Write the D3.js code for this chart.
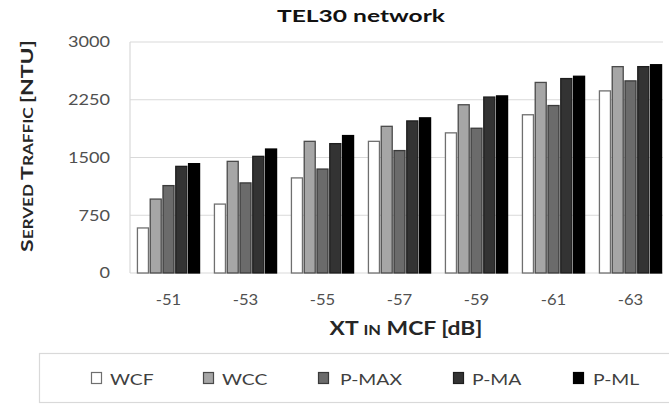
<!DOCTYPE html>
<html>
<head>
<meta charset="utf-8">
<script src="https://cdn.jsdelivr.net/npm/d3@7"></script>
<style>
  html, body { margin: 0; padding: 0; background: #fff; }
  svg { display: block; font-family: Lato, "Open Sans", sans-serif; }
</style>
</head>
<body>
<svg id="chart" width="669" height="407"></svg>
<script>
const categories = ["-51", "-53", "-55", "-57", "-59", "-61", "-63"];
const seriesNames = ["WCF", "WCC", "P-MAX", "P-MA", "P-ML"];
const wcf  = [585, 895, 1235, 1710, 1820, 2055, 2365];
const wcc  = [960, 1450, 1710, 1905, 2185, 2475, 2680];
const pmax = [1135, 1170, 1350, 1590, 1880, 2175, 2495];
const pma  = [1385, 1515, 1680, 1975, 2285, 2525, 2680];
const pml  = [1420, 1610, 1785, 2015, 2300, 2555, 2705];
const yTicks = [0, 750, 1500, 2250, 3000];
const seriesValues = [wcf, wcc, pmax, pma, pml];

const fills   = ["#ffffff", "#a6a6a6", "#6b6b6b", "#333333", "#000000"];
const strokes = ["#6f6f6f", "#4a4a4a", "#3a3a3a", "#1e1e1e", "#000000"];

const svg = d3.select("#chart");
const pLeft = 130, pRight = 669, pTop = 42, pBottom = 273;

function stretchBy(sel, f) {
  sel.each(function () {
    const l = this.getComputedTextLength();
    d3.select(this).attr("textLength", l * f).attr("lengthAdjust", "spacingAndGlyphs");
  });
}

const x0 = d3.scaleBand().domain(categories).range([pLeft, pRight]).paddingInner(0.18).paddingOuter(0.09);
const x1 = d3.scaleBand().domain(seriesNames).range([0, x0.bandwidth()]).paddingInner(0.06);
const y = d3.scaleLinear().domain([0, 3000]).range([pBottom, pTop]);

// gridlines
svg.append("g").selectAll("line").data(yTicks).join("line")
  .attr("x1", pLeft).attr("x2", 663)
  .attr("y1", d => y(d)).attr("y2", d => y(d))
  .attr("stroke", "#d9d9d9").attr("stroke-width", 1.2);
svg.append("line").attr("x1", pLeft).attr("x2", pLeft).attr("y1", pTop).attr("y2", pBottom)
  .attr("stroke", "#d9d9d9").attr("stroke-width", 1.2);

// y axis
const yAxis = d3.axisLeft(y).tickValues(yTicks).tickFormat(d3.format("d")).tickSize(0).tickPadding(20);
const gy = svg.append("g").attr("transform", `translate(${pLeft},0)`).call(yAxis);
gy.select(".domain").remove();
const yTxt = gy.selectAll("text").attr("font-size", 15).attr("fill", "#505050").attr("font-family", "Lato, sans-serif");
{
  const ref = yTxt.filter(d => d === 3000).node().getComputedTextLength();
  stretchBy(yTxt, 42 / ref);
}

// x axis
const xAxis = d3.axisBottom(x0).tickSize(0).tickPadding(21);
const gx = svg.append("g").attr("transform", `translate(0,${pBottom})`).call(xAxis);
gx.select(".domain").remove();
const xTxt = gx.selectAll("text").attr("font-size", 15).attr("fill", "#505050").attr("font-family", "Lato, sans-serif");
{
  const ref = xTxt.node().getComputedTextLength();
  stretchBy(xTxt, 25.5 / ref);
}

// bars
const rows = categories.map((c, i) => ({ cat: c, vals: seriesNames.map((s, j) => ({ s, j, v: seriesValues[j][i] })) }));
svg.append("g").selectAll("g").data(rows).join("g")
  .attr("transform", d => `translate(${x0(d.cat)},0)`)
  .selectAll("rect").data(d => d.vals).join("rect")
  .attr("x", d => x1(d.s) + 0.5)
  .attr("width", x1.bandwidth() - 1)
  .attr("y", d => y(d.v))
  .attr("height", d => y(0) - y(d.v))
  .attr("fill", d => fills[d.j])
  .attr("stroke", d => strokes[d.j])
  .attr("stroke-width", 1.3);

// title
svg.append("text").attr("x", 361).attr("y", 22).attr("text-anchor", "middle")
  .attr("font-size", 17.5).attr("font-weight", "bold").attr("fill", "#111")
  .attr("textLength", 168).attr("lengthAdjust", "spacingAndGlyphs")
  .text("TEL30 network");

// y title with small caps
const ytG = svg.append("g");
const yt = ytG.append("text").attr("x", 0).attr("y", 0)
  .attr("text-anchor", "middle").attr("font-weight", "bold").attr("fill", "#262626").attr("font-size", 17.5);
[["S",17.5],["ERVED ",13],["T",17.5],["RAFFIC ",13],["[NTU]",17.5]].forEach(([t,s]) => yt.append("tspan").attr("font-size", s).text(t));
{
  const sx = 212 / yt.node().getComputedTextLength();
  ytG.attr("transform", `translate(33,146) rotate(-90) scale(${sx},1)`);
}

// x title with small caps
const xtG = svg.append("g");
const xt = xtG.append("text").attr("x", 0).attr("y", 0).attr("text-anchor", "middle")
  .attr("font-weight", "bold").attr("fill", "#262626").attr("font-size", 18);
[["XT ",18],["IN",13],[" MCF [dB]",18]].forEach(([t,s]) => xt.append("tspan").attr("font-size", s).text(t));
{
  const sx = 153 / xt.node().getComputedTextLength();
  xtG.attr("transform", `translate(406,335) scale(${sx},1)`);
}

// legend
svg.append("rect").attr("x", 39.5).attr("y", 353.5).attr("width", 680).attr("height", 49)
  .attr("fill", "none").attr("stroke", "#d9d9d9").attr("stroke-width", 1.2);
const legX = [91, 203, 318, 453, 573];
const lg = svg.append("g").selectAll("g").data(seriesNames).join("g")
  .attr("transform", (d, i) => `translate(${legX[i]},372)`);
lg.append("rect").attr("x", 0.5).attr("y", 0.5).attr("width", 10).attr("height", 11)
  .attr("fill", (d, i) => fills[i]).attr("stroke", (d, i) => strokes[i]).attr("stroke-width", 1.2);
const legTxt = lg.append("text").attr("x", (d, i) => [19, 19, 22, 19, 20][i]).attr("y", 13)
  .attr("font-size", 16).attr("fill", "#404040").text(d => d);
{
  const ref = legTxt.filter(d => d === "P-MAX").node().getComputedTextLength();
  stretchBy(legTxt, 62 / ref);
}
</script>
</body>
</html>
